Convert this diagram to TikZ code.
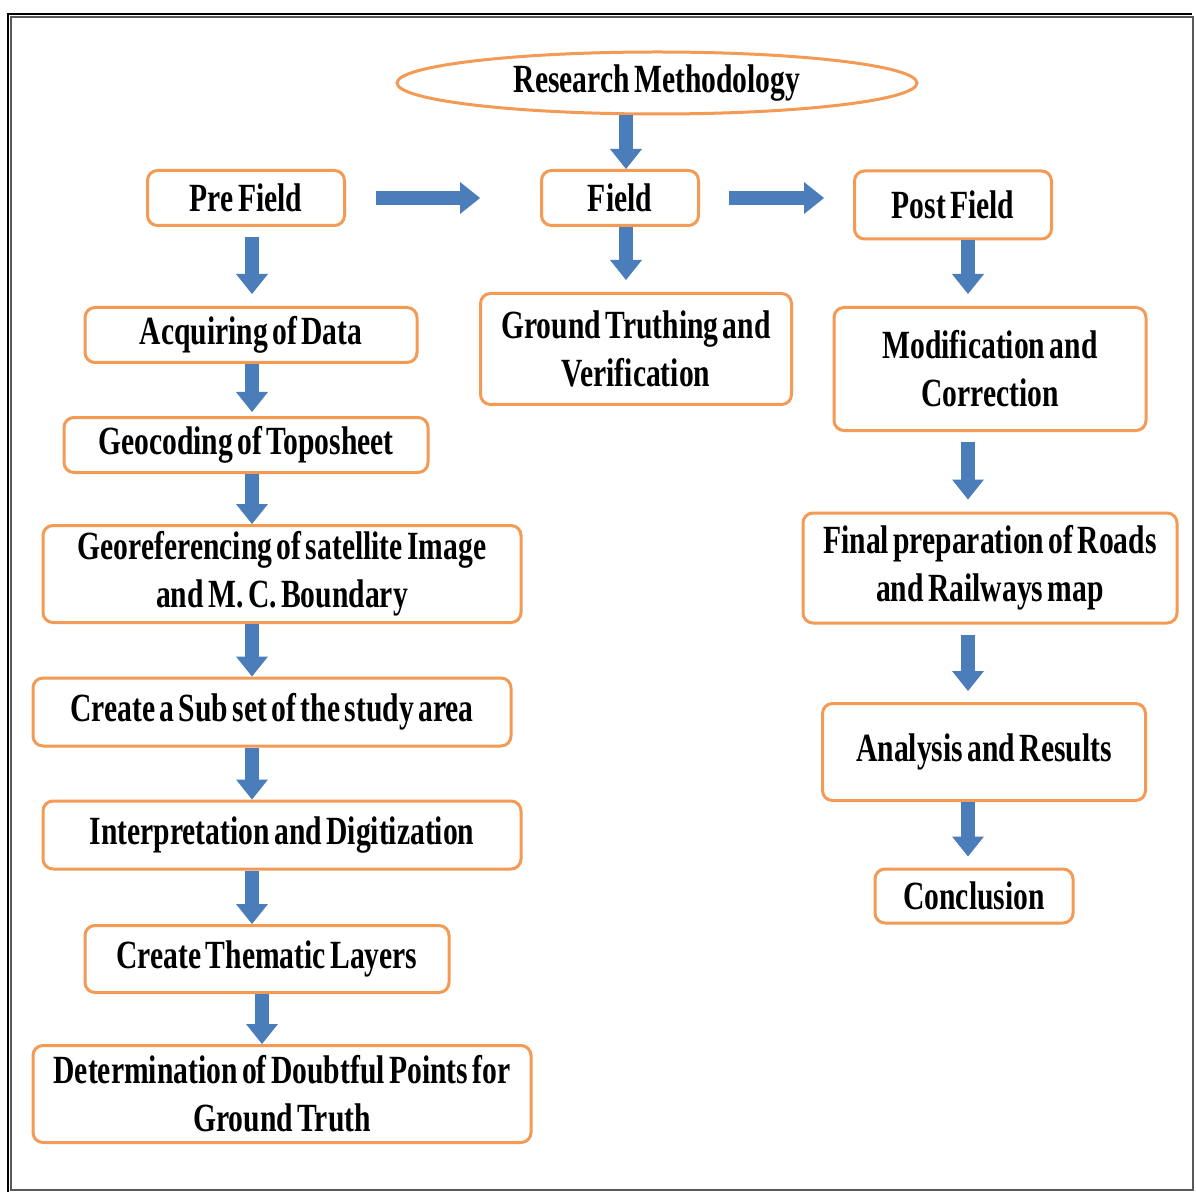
\documentclass[tikz,border=0pt]{standalone}
\usepackage{fontspec}
\setmainfont{Liberation Serif}[FakeStretch=0.74,WordSpace=0.6]
\usepackage{xcolor}
\usetikzlibrary{arrows.meta,shapes.geometric,positioning}
\definecolor{boxorange}{HTML}{F39A55}
\definecolor{arrowblue}{HTML}{4A7DBA}
\tikzset{
	stage/.style={draw=boxorange, line width=1.5pt, rounded corners=5pt, fill=white,
		align=center, inner sep=0pt, font=\bfseries\fontsize{20}{24}\selectfont},
	flow/.style={arrowblue, line width=7pt,
		-{Triangle[length=10pt,width=16pt,line width=0pt]}}
}

\begin{document}
\begin{tikzpicture}[x=0.5pt,y=-0.5pt]
		\useasboundingbox (0,0) rectangle (1195,1197);
		
			% frame
			\draw[gray!70!black, line width=1pt] (11,17) rectangle (1193,1190);
			\draw[black, line width=1pt] (8,1192) -- (8,14) -- (1192,14);
			
			% columns of the arrows
			\coordinate (lx) at (252,0);
			\coordinate (tx) at (262,0);
			\coordinate (mx) at (626,0);
			\coordinate (rx) at (968,0);
			
			\node[stage, ellipse, sharp corners, minimum width=260pt, minimum height=31pt] (rm) at (657,83) {Research Methodology};
			
			\node[stage, minimum width=98.5pt, minimum height=27.5pt] (pre) at (246,198) {Pre Field};
			\node[stage, minimum width=78.5pt, minimum height=27.5pt] (field) at (620,198) {Field};
			\node[stage, minimum width=98.5pt, minimum height=34pt] (post) at (953,205) {Post Field};
			
			% pre field
			\node[stage, minimum width=166pt, minimum height=27.5pt] (acq) at (251,335) {Acquiring of Data};
			\node[stage, minimum width=182pt, minimum height=27.5pt] (geo) at (246,445) {Geocoding of Toposheet};
			\node[stage, minimum width=239pt, minimum height=48.5pt] (georef) at (282,574) {Georeferencing of satellite Image\\and M. C. Boundary};
			\node[stage, minimum width=239pt, minimum height=34pt] (subset) at (272,712) {Create a Sub set of the study area};
			\node[stage, minimum width=239pt, minimum height=34pt] (interp) at (282,835) {Interpretation and Digitization};
			\node[stage, minimum width=182pt, minimum height=33.5pt] (layers) at (267,959) {Create Thematic Layers};
			\node[stage, minimum width=249pt, minimum height=48.5pt] (doubt) at (282,1094) {Determination of Doubtful Points for\\Ground Truth};
			
			% field
			\node[stage, minimum width=155.5pt, minimum height=55.5pt] (truth) at (636,349) {Ground Truthing and\\Verification};
			
			% post field
			\node[stage, minimum width=156pt, minimum height=61.5pt] (modif) at (990,369) {Modification and\\Correction};
			\node[stage, minimum width=187pt, minimum height=55pt] (final) at (990,568) {Final preparation of Roads\\and Railways map};
			\node[stage, minimum width=161.5pt, minimum height=48.5pt] (result) at (984,752) {Analysis and Results};
			\node[stage, minimum width=99pt, minimum height=27pt] (concl) at (974,896) {Conclusion};
			
			\draw[flow] (rm.south -| mx) -- (field.north -| mx);
			\draw[flow, shorten <=15pt, shorten >=30pt] (pre.east) -- (field.west);
			\draw[flow, shorten <=14.5pt, shorten >=14.5pt] (field.east) -- (field.east -| post.west);
			
			\draw[flow, shorten <=5pt, shorten >=6pt] (pre.south -| lx) -- (acq.north -| lx);
			\draw[flow, shorten >=2pt] (acq.south -| lx) -- (geo.north -| lx);
			\draw[flow] (geo.south -| lx) -- (georef.north -| lx);
			\draw[flow] (georef.south -| lx) -- (subset.north -| lx);
			\draw[flow] (subset.south -| lx) -- (interp.north -| lx);
			\draw[flow] (interp.south -| lx) -- (layers.north -| lx);
			\draw[flow] (layers.south -| tx) -- (doubt.north -| tx);
			
			\draw[flow, shorten >=6pt] (field.south -| mx) -- (truth.north -| mx);
			
			\draw[flow, shorten >=6pt] (post.south -| rx) -- (modif.north -| rx);
			\draw[flow, shorten <=5pt, shorten >=6pt] (modif.south -| rx) -- (final.north -| rx);
			\draw[flow, shorten <=5pt, shorten >=5.5pt] (final.south -| rx) -- (result.north -| rx);
			\draw[flow, shorten >=5.5pt] (result.south -| rx) -- (concl.north -| rx);
		\end{tikzpicture}
\end{document}
